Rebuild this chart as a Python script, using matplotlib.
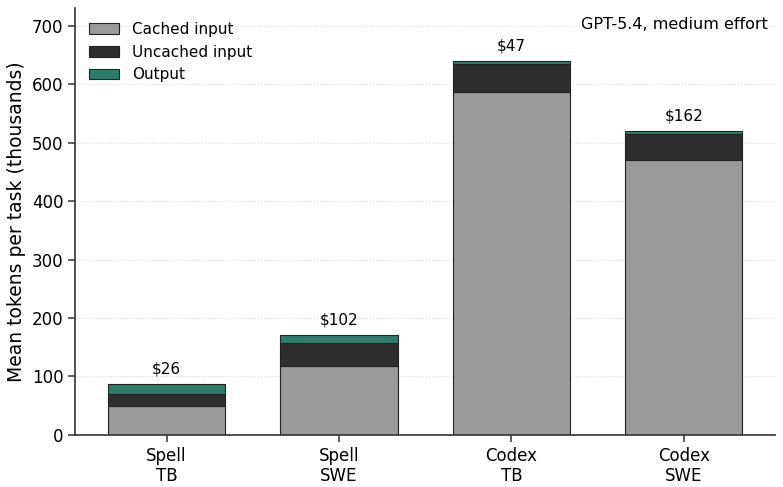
import numpy as np
import matplotlib.pyplot as plt

labels = ['Spell\nTB', 'Spell\nSWE', 'Codex\nTB', 'Codex\nSWE']
cached = [50, 118, 587, 470]
uncached = [20, 39, 48, 45]
output = [17, 14, 5, 5]
costs = ['$26', '$102', '$47', '$162']

x = np.arange(len(labels))
cached = np.array(cached)
uncached = np.array(uncached)
output = np.array(output)

fig, ax = plt.subplots(figsize=(7.83, 4.87), dpi=100)
fig.subplots_adjust(left=0.096, right=0.99, bottom=0.107, top=0.983)

ax.bar(x, cached, 0.68, color='#9a9a9a', edgecolor='#222222', linewidth=0.8, label='Cached input')
ax.bar(x, uncached, 0.68, bottom=cached, color='#2e2e2e', edgecolor='#222222', linewidth=0.8, label='Uncached input')
ax.bar(x, output, 0.68, bottom=cached + uncached, color='#2e7d6b', edgecolor='#222222', linewidth=0.8, label='Output')

totals = cached + uncached + output
for i in range(len(x)):
    ax.text(x[i], totals[i] + 13, costs[i], ha='center', va='bottom', fontsize=11)

ax.text(0.99, 0.98, 'GPT-5.4, medium effort', transform=ax.transAxes, ha='right', va='top', fontsize=11.5)

ax.set_xticks(x)
ax.set_xticklabels(labels, fontsize=12)
ax.tick_params(axis='y', labelsize=12)
ax.tick_params(length=5, width=1.1, color='#333333')
ax.set_ylabel('Mean tokens per task (thousands)', fontsize=13.5)
ax.set_ylim(0, 730)
ax.set_xlim(-0.53, 3.53)
ax.yaxis.grid(True, linestyle=':', color='#dddddd', linewidth=0.8)
ax.set_axisbelow(True)
ax.spines['top'].set_visible(False)
ax.spines['right'].set_visible(False)
for s in ['left', 'bottom']:
    ax.spines[s].set_linewidth(1.2)
    ax.spines[s].set_color('#333333')
ax.legend(loc='upper left', frameon=False, fontsize=11)

plt.savefig('out.png', dpi=100)
